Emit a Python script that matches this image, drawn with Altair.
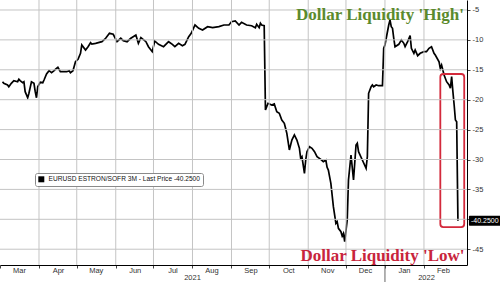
import altair as alt
import pandas as pd

# ---- data ----
dates = [
    "2021-03-03", "2021-03-04", "2021-03-07", "2021-03-08", "2021-03-10", "2021-03-12",
    "2021-03-15", "2021-03-16", "2021-03-17", "2021-03-19", "2021-03-20", "2021-03-21",
    "2021-03-23", "2021-03-24", "2021-03-26", "2021-03-28", "2021-03-29", "2021-03-30",
    "2021-03-31", "2021-04-02", "2021-04-04", "2021-04-05", "2021-04-07", "2021-04-09",
    "2021-04-11", "2021-04-13", "2021-04-14", "2021-04-16", "2021-04-18", "2021-04-21",
    "2021-04-23", "2021-04-25", "2021-04-26", "2021-04-28", "2021-04-30", "2021-05-02",
    "2021-05-04", "2021-05-05", "2021-05-08", "2021-05-10", "2021-05-12", "2021-05-13",
    "2021-05-16", "2021-05-21", "2021-05-24", "2021-05-27", "2021-05-30", "2021-06-02",
    "2021-06-05", "2021-06-07", "2021-06-10", "2021-06-13", "2021-06-17", "2021-06-19",
    "2021-06-21", "2021-06-25", "2021-06-27", "2021-06-30", "2021-07-02", "2021-07-05",
    "2021-07-09", "2021-07-13", "2021-07-16", "2021-07-18", "2021-07-21", "2021-07-24",
    "2021-07-26", "2021-07-29", "2021-07-31", "2021-08-03", "2021-08-06", "2021-08-09",
    "2021-08-13", "2021-08-17", "2021-08-22", "2021-08-26", "2021-08-30", "2021-09-01",
    "2021-09-04", "2021-09-07", "2021-09-09", "2021-09-13", "2021-09-17", "2021-09-20",
    "2021-09-21", "2021-09-23", "2021-09-24", "2021-09-25", "2021-09-27", "2021-09-28",
    "2021-09-29", "2021-09-30", "2021-10-03", "2021-10-05", "2021-10-07", "2021-10-09",
    "2021-10-11", "2021-10-13", "2021-10-14", "2021-10-15", "2021-10-17", "2021-10-19",
    "2021-10-21", "2021-10-23", "2021-10-25", "2021-10-26", "2021-10-27", "2021-10-29",
    "2021-10-30", "2021-10-31", "2021-11-02", "2021-11-04", "2021-11-06", "2021-11-08",
    "2021-11-11", "2021-11-13", "2021-11-15", "2021-11-16", "2021-11-17", "2021-11-19",
    "2021-11-21", "2021-11-23", "2021-11-24", "2021-11-25", "2021-11-27", "2021-11-28",
    "2021-11-29", "2021-11-30", "2021-12-02", "2021-12-03", "2021-12-05", "2021-12-07",
    "2021-12-09", "2021-12-10", "2021-12-11", "2021-12-14", "2021-12-17", "2021-12-18",
    "2021-12-19", "2021-12-21", "2021-12-22", "2021-12-23", "2021-12-25", "2021-12-27",
    "2021-12-30", "2021-12-31", "2022-01-01", "2022-01-02", "2022-01-04", "2022-01-05",
    "2022-01-06", "2022-01-07", "2022-01-08", "2022-01-09", "2022-01-12", "2022-01-14",
    "2022-01-16", "2022-01-17", "2022-01-19", "2022-01-21", "2022-01-22", "2022-01-24",
    "2022-01-25", "2022-01-27", "2022-01-29", "2022-02-01", "2022-02-03", "2022-02-05",
    "2022-02-07", "2022-02-09", "2022-02-10", "2022-02-13", "2022-02-14", "2022-02-15",
    "2022-02-17", "2022-02-19", "2022-02-21", "2022-02-22", "2022-02-23", "2022-02-24",
    "2022-02-25", "2022-02-26", "2022-02-27", "2022-02-28",
]
values = [
    -17.00, -17.26, -17.54, -17.83, -17.26, -16.82,
    -17.00, -16.59, -16.82, -17.16, -17.00, -18.66,
    -19.67, -18.93, -17.00, -17.26, -18.66, -19.67,
    -17.83, -17.09, -17.16, -16.71, -15.70, -15.15,
    -15.48, -15.15, -14.92, -14.58, -15.32, -15.32,
    -15.32, -15.15, -15.48, -15.15, -13.65, -13.24,
    -12.24, -10.85, -11.69, -11.14, -10.47, -10.69,
    -10.57, -10.30, -9.73, -8.90, -9.06, -10.30,
    -9.73, -10.13, -10.30, -9.73, -9.18, -10.57,
    -9.63, -10.30, -11.14, -11.97, -10.18, -10.74,
    -11.14, -10.30, -10.74, -11.14, -10.57, -10.97,
    -10.74, -9.46, -8.90, -7.51, -8.06, -8.34,
    -7.79, -7.96, -7.79, -7.51, -7.51, -6.96,
    -6.84, -7.51, -7.06, -7.51, -7.63, -7.96,
    -7.39, -7.96, -7.22, -7.51, -7.63, -21.72,
    -21.17, -20.60, -20.89, -20.72, -22.01, -22.27,
    -23.39, -23.95, -24.78, -25.62, -28.41, -26.74,
    -25.90, -26.74, -28.13, -29.80, -29.53, -32.31,
    -30.08, -28.70, -27.86, -28.13, -28.70, -29.53,
    -29.97, -30.37, -30.08, -31.30, -31.76, -33.98,
    -37.89, -40.67, -40.40, -41.51, -42.07, -42.79,
    -42.34, -43.75, -40.12, -33.43, -29.25, -33.43,
    -27.58, -27.29, -28.70, -30.08, -31.47, -29.53,
    -18.93, -17.83, -17.54, -17.83, -17.54, -17.66,
    -17.66, -11.40, -10.85, -9.73, -7.51, -6.67,
    -7.79, -8.06, -9.73, -11.14, -10.74, -10.02,
    -10.57, -11.14, -10.30, -9.30, -11.40, -12.24,
    -11.69, -12.64, -12.24, -11.97, -11.97, -11.40,
    -11.14, -12.24, -12.53, -13.65, -14.75, -14.20,
    -15.87, -16.99, -17.54, -18.09, -16.15, -18.66,
    -20.89, -23.39, -23.68, -40.25,
]
series_name = "EURUSD ESTRON/SOFR 3M - Last Price -40.2500"
last_value = -40.25
y_ticks = [-5, -10, -15, -20, -25, -30, -35, -40, -45]
month_starts = [(2021, m) for m in range(3, 13)] + [(2022, 1), (2022, 2)]
month_start_dates = [f"{y}-{m:02d}-01" for y, m in month_starts]
year_labels = ["2021", "2022"]
year_label_dates = ["2021-08-01", "2022-02-03"]
year_break = ["2022-01-01"]
box_dates = ["2022-02-14", "2022-03-05"]
box_values = [-15.7, -41.3]
notes = ["Dollar Liquidity 'High'", "Dollar Liquidity 'Low'"]
note_dates = ["2021-12-28", "2021-12-30"]
note_values = [-5.9, -46.1]
note_colors = ["#5b8a2d", "#c8243c"]

W, H = 467, 265
FONT = "Liberation Sans"

df = pd.DataFrame({"date": dates, "value": values, "series": series_name})
box_df = pd.DataFrame({"date": [box_dates[0]], "d2": [box_dates[1]],
                       "value": [box_values[0]], "v2": [box_values[1]]})
last_df = pd.DataFrame({"date": [dates[-1]], "value": [last_value],
                        "label": [f"{last_value:.4f}"]})
year_df = pd.DataFrame({"date": year_label_dates, "label": year_labels})
break_df = pd.DataFrame({"date": year_break})
note_df = pd.DataFrame({"date": note_dates, "value": note_values,
                        "label": notes, "color": note_colors})
vgrid_df = pd.DataFrame({"date": month_start_dates[1:]})
hgrid_df = pd.DataFrame({"value": y_ticks})

xscale = alt.Scale(
    type="utc",
    domain=[alt.DateTime(year=2021, month=3, date=1, hours=0, utc=True),
            alt.DateTime(year=2022, month=3, date=7, hours=5, utc=True)],
)
yscale = alt.Scale(domain=[-47.64, -3.33], nice=False, zero=False)

xaxis = alt.Axis(
    values=[alt.DateTime(year=y, month=m, date=1, utc=True) for y, m in month_starts],
    labelExpr="utcFormat(datum.value, '%b')",
    labelOffset=19, labelAlign="center", labelFontSize=7.5, labelFont=FONT,
    labelColor="#333", labelPadding=-1.5, labelBound=False, labelFlush=False,
    tickSize=3, tickColor="#444", domainColor="#000", domainWidth=1,
    title=None, grid=False,
)
yaxis = alt.Axis(
    orient="right", values=y_ticks,
    labelExpr="datum.value == -40 ? '' : '-' + abs(datum.value)",
    labelFontSize=7.5, labelFont=FONT, labelColor="#333", labelPadding=2,
    tickSize=3, tickColor="#444", domainColor="#000", domainWidth=1,
    title=None, grid=False,
)


def X(field):
    return alt.X(field, scale=xscale, axis=xaxis)


def Y(field):
    return alt.Y(field, scale=yscale, axis=yaxis)


GRID_STYLE = dict(color="#c4c4c4", strokeWidth=1, opacity=1)
vgrid = alt.Chart(vgrid_df).mark_rule(**GRID_STYLE).encode(
    x=X("date:T"), y=alt.value(0), y2=alt.value(H)
)
hgrid = alt.Chart(hgrid_df).mark_rule(**GRID_STYLE).encode(
    y=Y("value:Q"), x=alt.value(0), x2=alt.value(W)
)

line = alt.Chart(df).mark_line(color="black", strokeWidth=1.7).encode(
    x=X("date:T"),
    y=Y("value:Q"),
    color=alt.Color(
        "series:N", scale=alt.Scale(range=["#000000"]),
        legend=alt.Legend(
            orient="none", legendX=35, legendY=173, title=None,
            symbolType="square", symbolSize=36, symbolFillColor="#000",
            symbolStrokeWidth=0, labelFontSize=6.6, labelFont=FONT,
            labelColor="#111", labelLimit=400, strokeColor="#8a8a8a",
            fillColor="white", padding=3, cornerRadius=2,
        ),
    ),
)

box = alt.Chart(box_df).mark_rect(
    fillOpacity=0, stroke="#d3293b", strokeWidth=1.8, cornerRadius=3
).encode(
    x=X("date:T"), x2="d2:T",
    y=Y("value:Q"), y2="v2:Q",
)

tag = alt.Chart(last_df).mark_rect(
    color="black", xOffset=11, x2Offset=46, yOffset=-5, y2Offset=5, cornerRadius=1
).encode(
    x=X("date:T"), x2="date:T",
    y=Y("value:Q"), y2="value:Q",
)
tag_text = alt.Chart(last_df).mark_text(
    color="white", fontSize=7, font=FONT, align="left", baseline="middle", dx=13
).encode(
    x=X("date:T"),
    y=Y("value:Q"),
    text="label:N",
)

year_text = alt.Chart(year_df).mark_text(
    fontSize=7.5, font=FONT, color="#333", baseline="middle"
).encode(
    x=X("date:T"),
    y=alt.value(H + 13),
    text="label:N",
)
year_rule = alt.Chart(break_df).mark_rule(color="#666", strokeWidth=1).encode(
    x=X("date:T"),
    y=alt.value(H + 1), y2=alt.value(H + 17),
)

note_text = alt.Chart(note_df).mark_text(
    fontSize=17, font="Liberation Serif", fontWeight="bold", baseline="middle"
).encode(
    x=X("date:T"),
    y=Y("value:Q"),
    text="label:N",
    color=alt.Color("color:N", scale=None, legend=None),
)

chart = alt.layer(
    line, box, tag, tag_text, year_rule, year_text, vgrid, hgrid, note_text
).properties(
    width=W, height=H,
    autosize=alt.AutoSizeParams(type="none"),
    padding={"left": 0, "top": 0, "right": 33, "bottom": 17},
    background="white",
).configure_view(stroke=None).resolve_scale(color="independent")

chart.save("out.html", embed_options={"renderer": "svg", "actions": False})
